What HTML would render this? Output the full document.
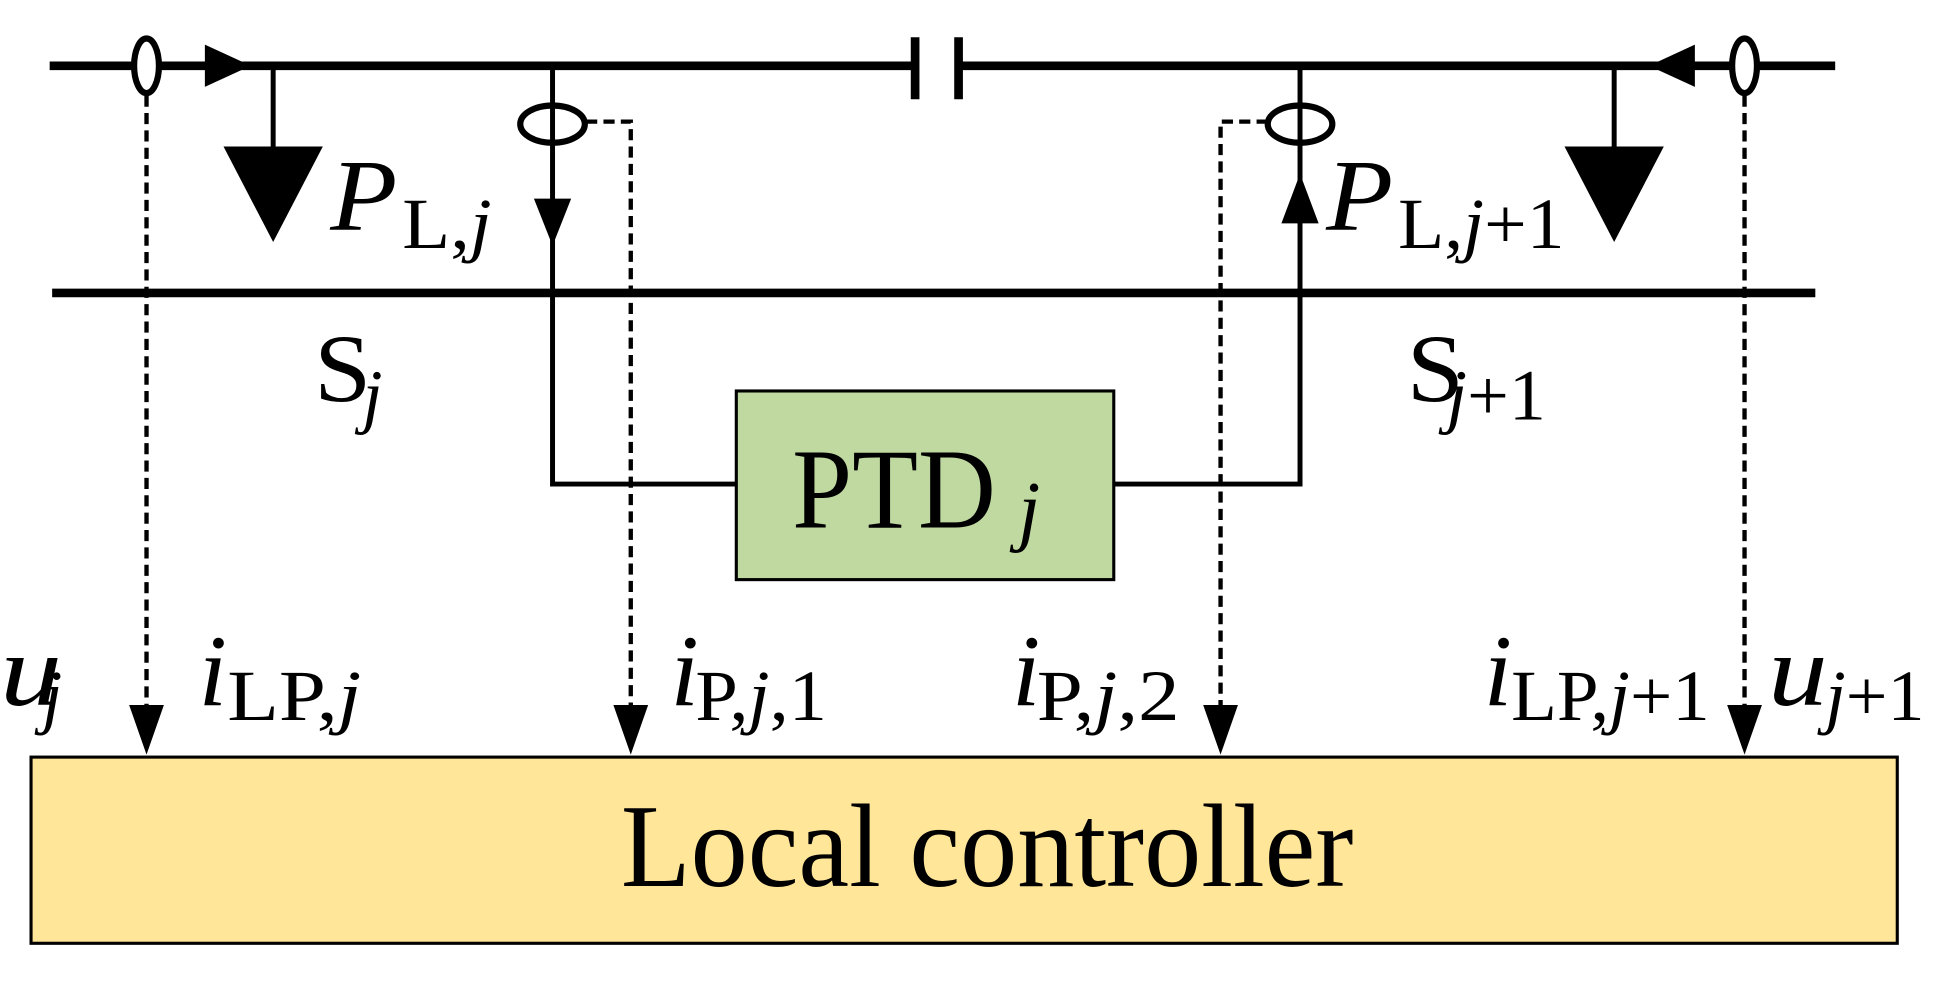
<!DOCTYPE html>
<html><head><style>html,body{margin:0;padding:0;background:#fff;}svg{display:block}</style></head>
<body>
<svg width="1937" height="983" viewBox="0 0 1560 792" preserveAspectRatio="none" xmlns="http://www.w3.org/2000/svg" font-family="Liberation Serif, serif">
<line x1="40" y1="53" x2="737" y2="53" stroke="#000" stroke-width="7"/>
<line x1="772" y1="53" x2="1478" y2="53" stroke="#000" stroke-width="7"/>
<line x1="737" y1="30" x2="737" y2="80" stroke="#000" stroke-width="7"/>
<line x1="772" y1="30" x2="772" y2="80" stroke="#000" stroke-width="7"/>
<ellipse cx="118" cy="53" rx="10" ry="22" fill="#fff" stroke="#000" stroke-width="5"/>
<ellipse cx="1405" cy="53" rx="10" ry="22" fill="#fff" stroke="#000" stroke-width="5"/>
<polygon points="165,36 202,53 165,70" fill="#000"/>
<polygon points="1365,36 1328,53 1365,70" fill="#000"/>
<line x1="220" y1="53" x2="220" y2="120" stroke="#000" stroke-width="4"/>
<polygon points="180,118 260,118 220,195" fill="#000"/>
<line x1="1300" y1="53" x2="1300" y2="120" stroke="#000" stroke-width="4"/>
<polygon points="1260,118 1340,118 1300,195" fill="#000"/>
<polyline points="445,53 445,390 593,390" fill="none" stroke="#000" stroke-width="4"/>
<polyline points="1047,53 1047,390 897,390" fill="none" stroke="#000" stroke-width="4"/>
<ellipse cx="445" cy="100" rx="26" ry="15" fill="none" stroke="#000" stroke-width="5"/>
<ellipse cx="1047" cy="100" rx="26" ry="15" fill="none" stroke="#000" stroke-width="5"/>
<polygon points="430,160 460,160 445,198" fill="#000"/>
<polygon points="1032,180 1062,180 1047,140" fill="#000"/>
<line x1="42" y1="236" x2="1462" y2="236" stroke="#000" stroke-width="7"/>
<g stroke="#000" stroke-width="3.5" stroke-dasharray="9,5" fill="none">
<line x1="118" y1="77" x2="118" y2="575"/>
<polyline points="472,98 508,98 508,575"/>
<polyline points="1021,98 983,98 983,575"/>
<line x1="1405" y1="77" x2="1405" y2="575"/>
</g>
<g fill="#000">
<polygon points="104,568 132,568 118,608"/>
<polygon points="494,568 522,568 508,608"/>
<polygon points="969,568 997,568 983,608"/>
<polygon points="1391,568 1419,568 1405,608"/>
</g>
<rect x="593" y="315" width="304" height="152" fill="#BFD9A0" stroke="#000" stroke-width="2.5"/>
<rect x="25" y="610" width="1503" height="150" fill="#FFE699" stroke="#000" stroke-width="2.5"/>
<g font-size="82" font-style="italic">
<text x="266" y="185" textLength="54" lengthAdjust="spacingAndGlyphs">P</text>
<text x="1068" y="185" textLength="54" lengthAdjust="spacingAndGlyphs">P</text>
<text x="0" y="568" textLength="50" lengthAdjust="spacingAndGlyphs">u</text>
<text x="160" y="568">i</text>
<text x="540" y="568">i</text>
<text x="815" y="568">i</text>
<text x="1195" y="568">i</text>
<text x="1424" y="568" textLength="48" lengthAdjust="spacingAndGlyphs">u</text>
</g>
<g font-size="58">
<text x="324" y="200" textLength="72" lengthAdjust="spacingAndGlyphs">L,<tspan font-style="italic">j</tspan></text>
<text x="1126" y="200" textLength="134" lengthAdjust="spacingAndGlyphs">L,<tspan font-style="italic">j</tspan>+1</text>
<text x="34" y="580" font-style="italic">j</text>
<text x="183" y="580" textLength="108" lengthAdjust="spacingAndGlyphs">LP,<tspan font-style="italic">j</tspan></text>
<text x="560" y="580" textLength="106" lengthAdjust="spacingAndGlyphs">P,<tspan font-style="italic">j</tspan>,1</text>
<text x="835" y="580" textLength="115" lengthAdjust="spacingAndGlyphs">P,<tspan font-style="italic">j</tspan>,2</text>
<text x="1217" y="580" textLength="160" lengthAdjust="spacingAndGlyphs">LP,<tspan font-style="italic">j</tspan>+1</text>
<text x="1470" y="580" textLength="80" lengthAdjust="spacingAndGlyphs"><tspan font-style="italic">j</tspan>+1</text>
<text x="292" y="338" font-style="italic">j</text>
<text x="1165" y="338" textLength="80" lengthAdjust="spacingAndGlyphs"><tspan font-style="italic">j</tspan>+1</text>
</g>
<text x="253" y="323" font-size="78" textLength="46" lengthAdjust="spacingAndGlyphs">S</text>
<text x="1133" y="323" font-size="78" textLength="46" lengthAdjust="spacingAndGlyphs">S</text>
<text x="638" y="425" font-size="92" textLength="164" lengthAdjust="spacingAndGlyphs">PTD</text>
<text x="820" y="432" font-size="64" font-style="italic">j</text>
<text x="500" y="714" font-size="96" textLength="590" lengthAdjust="spacingAndGlyphs">Local controller</text>
</svg>
</body></html>
